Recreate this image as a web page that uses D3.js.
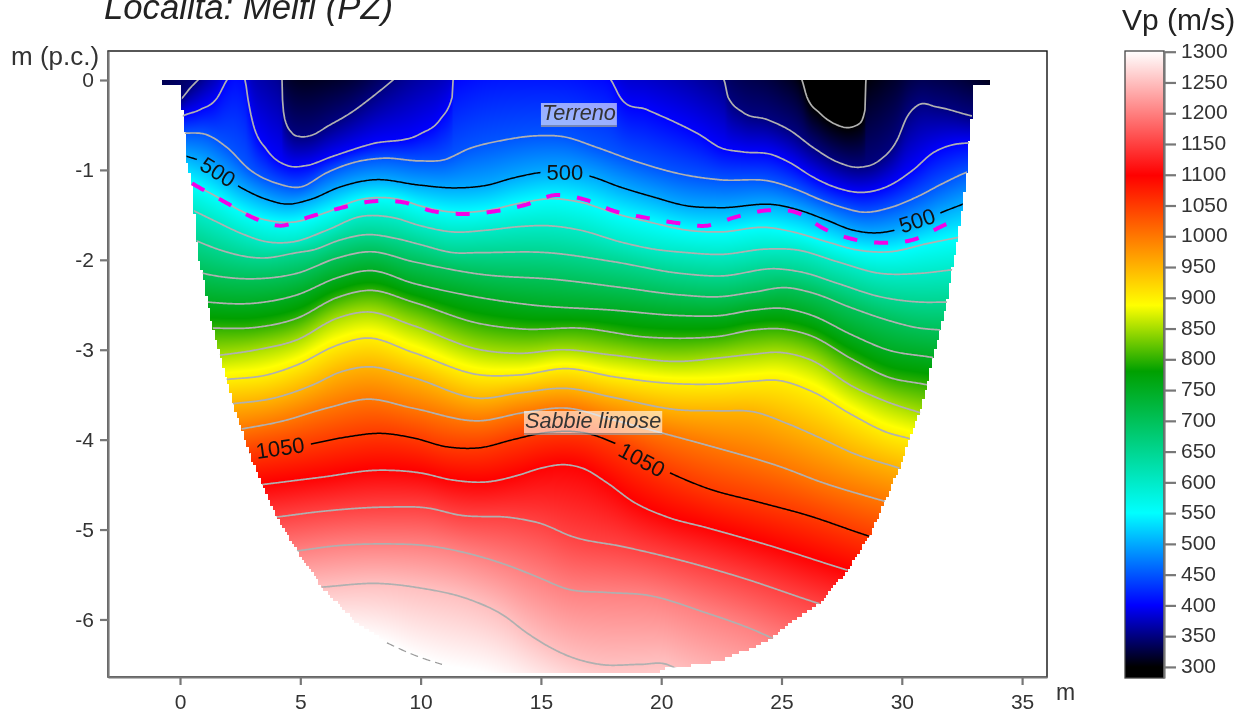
<!DOCTYPE html>
<html>
<head>
<meta charset="utf-8">
<script src="https://d3js.org/d3.v7.min.js"></script>
<style>
    html, body { margin: 0; background: #fff; overflow: hidden; }
    text { font-family: "Liberation Sans", Arial, sans-serif; }
</style>
</head>
<body>
<div id="chart"></div>
<script>
// isolines as [distance m, depth m]; positive depth = above ground, not drawn, only there to feed the colour field
const c300 = [[-.75,.67],[2.49,.78],[3.95,.44],[5,.22],[5.82,.22],[7.48,.33],[9.14,.67],[13.3,.89],[21.61,.89],[24.94,.33],[25.85,0],[26.06,-.19],[26.6,-.37],[27.31,-.5],[27.76,-.53],[28.26,-.48],[28.47,-.33],[28.51,0],[29.09,.22],[33.67,.11]]
const c350 = [[-.75,-.39],[.12,-.19],[.42,-.09],[.75,0],[1.45,.22],[2.49,.44],[3.95,.22],[4.24,0],[4.26,-.22],[4.36,-.44],[4.66,-.59],[5,-.63],[5.4,-.62],[6.23,-.5],[7.07,-.37],[7.98,-.19],[8.85,0],[9.77,.22],[13.3,.56],[17.46,.56],[21.61,.22],[22.61,0],[22.78,-.19],[23.4,-.36],[24.4,-.44],[25.35,-.56],[26.31,-.75],[27.31,-.91],[28.26,-.97],[29.09,-.89],[29.8,-.67],[30.22,-.41],[30.67,-.28],[31.46,-.3],[32.92,-.4],[33.67,-.44]]
const c400 = [[-.75,-.56],[.12,-.4],[.83,-.33],[1.54,-.2],[1.95,0],[2.33,.13],[2.7,0],[2.83,-.22],[3.03,-.48],[3.62,-.78],[4.45,-.95],[5.28,-.95],[6.23,-.86],[7.98,-.71],[9.98,-.6],[10.81,-.44],[11.31,-.19],[11.35,0],[12.05,.13],[14.55,.22],[17.04,.13],[17.91,0],[18.29,-.19],[19.41,-.33],[20.66,-.48],[21.61,-.61],[22.44,-.75],[23.4,-.8],[24.6,-.83],[25.35,-.92],[26.31,-1.08],[27.31,-1.2],[28.39,-1.25],[29.51,-1.17],[30.47,-1],[31.3,-.81],[32.13,-.72],[32.79,-.7],[33.67,-.69]]
const c450 = [[-.75,-.6],[.21,-.59],[1.12,-.61],[1.95,-.75],[2.91,-1],[4.03,-1.15],[5,-1.19],[6.11,-1.03],[7.19,-.92],[8.44,-.87],[9.98,-.9],[10.93,-.89],[12.05,-.76],[13.42,-.67],[14.84,-.62],[15.92,-.63],[17.33,-.75],[18.99,-.91],[21.07,-1.06],[22.44,-1.11],[24.6,-1.13],[25.64,-1.22],[26.6,-1.33],[27.56,-1.42],[28.39,-1.47],[29.51,-1.42],[30.63,-1.3],[31.71,-1.15],[32.67,-1.03],[33.67,-.95]]
const c500 = [[-.75,-.78],[.29,-.85],[1.04,-.92],[2.49,-1.19],[3.62,-1.33],[4.45,-1.38],[5.4,-1.33],[6.65,-1.19],[8.02,-1.11],[9.98,-1.17],[11.35,-1.2],[12.76,-1.17],[13.84,-1.09],[14.96,-1.03],[16,-1.02],[17.04,-1.07],[18.29,-1.19],[19.66,-1.3],[21.07,-1.4],[22.44,-1.42],[24.81,-1.39],[25.77,-1.45],[26.89,-1.56],[27.97,-1.67],[28.97,-1.7],[29.72,-1.67],[30.76,-1.58],[31.59,-1.48],[32.54,-1.38],[33.67,-1.25]]
const c550 = [[-.75,-.95],[.5,-1.15],[1.54,-1.3],[2.49,-1.45],[3.62,-1.56],[4.7,-1.58],[6.11,-1.47],[7.48,-1.33],[9.14,-1.33],[9.98,-1.4],[11.35,-1.47],[12.76,-1.45],[14.13,-1.37],[15.5,-1.32],[16.63,-1.36],[18.29,-1.5],[19.66,-1.59],[21.07,-1.67],[22.44,-1.69],[24.4,-1.64],[25.48,-1.69],[26.89,-1.8],[28.14,-1.89],[29.51,-1.91],[31.05,-1.82],[32.34,-1.75],[33.67,-1.67]]
const c600 = [[-.75,-1.28],[.54,-1.45],[1.54,-1.58],[2.49,-1.7],[3.62,-1.8],[4.7,-1.8],[6.11,-1.67],[7.48,-1.52],[8.85,-1.53],[9.98,-1.62],[11.35,-1.69],[12.76,-1.67],[14.13,-1.63],[15.25,-1.62],[16.63,-1.67],[18.29,-1.8],[19.66,-1.88],[21.07,-1.92],[22.44,-1.94],[24.4,-1.88],[25.64,-1.89],[27.31,-2.02],[29.09,-2.15],[30.76,-2.15],[32.13,-2.11],[33.67,-2.07]]
const c650 = [[-.75,-1.61],[.79,-1.8],[1.66,-1.89],[3.45,-1.98],[4.86,-1.92],[5.53,-1.89],[6.65,-1.78],[7.77,-1.72],[8.94,-1.76],[9.98,-1.83],[11.35,-1.92],[12.47,-1.92],[15.25,-1.92],[18,-2.02],[20.78,-2.15],[22.44,-2.18],[24.81,-2.1],[25.89,-2.14],[27.31,-2.26],[29.09,-2.41],[30.76,-2.47],[31.88,-2.47],[33.67,-2.47]]
const c700 = [[-.75,-2],[.96,-2.15],[3.2,-2.21],[4.86,-2.15],[6.53,-1.98],[7.9,-1.91],[9.68,-2.02],[12.47,-2.16],[15.67,-2.22],[18.41,-2.31],[20.78,-2.39],[22.44,-2.41],[23.82,-2.36],[25.23,-2.31],[26.18,-2.36],[27.97,-2.54],[29.39,-2.67],[30.76,-2.76],[31.59,-2.78],[33.67,-2.84]]
const c750 = [[-.75,-2.39],[1.16,-2.47],[3.2,-2.48],[4.86,-2.39],[6.53,-2.2],[7.9,-2.12],[9.68,-2.26],[12.47,-2.42],[14.55,-2.5],[18,-2.56],[20.78,-2.62],[22.44,-2.62],[23.82,-2.56],[25.06,-2.54],[26.18,-2.61],[27.97,-2.84],[29.39,-3],[31.34,-3.09],[33.67,-3.23]]
const c800 = [[-.75,-2.73],[1.45,-2.76],[3.2,-2.75],[4.86,-2.65],[6.53,-2.42],[7.9,-2.34],[9.68,-2.47],[12.47,-2.71],[14.26,-2.77],[16.63,-2.76],[19.41,-2.86],[21.32,-2.87],[22.44,-2.85],[23.82,-2.78],[25.06,-2.77],[26.18,-2.84],[27.97,-3.11],[29.39,-3.3],[31.05,-3.39],[33.67,-3.56]]
const c850 = [[-.75,-3.11],[1.66,-3.06],[3.2,-3],[4.86,-2.89],[6.53,-2.65],[7.77,-2.58],[9.68,-2.73],[12.47,-3],[14.13,-3.04],[15.92,-3],[18,-3.06],[20.78,-3.13],[22.44,-3.09],[23.82,-3.05],[24.94,-3.03],[26.18,-3.11],[27.97,-3.41],[29.39,-3.58],[30.76,-3.7],[33.67,-3.95]]
const c900 = [[-.75,-3.39],[1.95,-3.33],[3.62,-3.28],[4.86,-3.17],[6.53,-2.95],[7.77,-2.87],[9.68,-3.03],[12.47,-3.28],[14.13,-3.28],[16.08,-3.21],[18,-3.3],[20.78,-3.38],[22.44,-3.38],[23.82,-3.35],[24.81,-3.34],[26.31,-3.47],[27.97,-3.73],[29.39,-3.92],[30.34,-3.99],[33.67,-4.34]]
const c950 = [[-.75,-3.67],[2.2,-3.6],[3.87,-3.54],[5.53,-3.39],[6.65,-3.25],[7.77,-3.19],[9.68,-3.31],[12.47,-3.54],[14.13,-3.48],[16.08,-3.43],[18,-3.53],[20.78,-3.67],[22.44,-3.68],[23.82,-3.69],[25.23,-3.82],[26.6,-3.98],[27.97,-4.15],[29.93,-4.32],[33.67,-4.67]]
const c1000 = [[-.75,-4],[2.58,-3.88],[4.16,-3.8],[6.23,-3.64],[7.77,-3.55],[9.68,-3.65],[12.47,-3.79],[14.26,-3.7],[16.08,-3.65],[18,-3.78],[19.95,-3.92],[22.15,-4.08],[24.94,-4.3],[26.73,-4.48],[29.09,-4.67],[33.67,-5]]
const c1050 = [[-.75,-4.28],[2.83,-4.15],[5.4,-4.05],[6.94,-3.97],[8.31,-3.93],[9.68,-3.98],[11.1,-4.08],[12.47,-4.09],[13.84,-4],[15.25,-3.92],[16.92,-3.93],[18.16,-4.05],[20.37,-4.37],[21.9,-4.54],[23.98,-4.69],[26.06,-4.84],[28.6,-5.07],[33.67,-5.45]]
const c1100 = [[-.75,-4.62],[3.41,-4.5],[5.82,-4.42],[8.31,-4.34],[9.98,-4.37],[11.35,-4.45],[12.76,-4.47],[14.13,-4.39],[14.96,-4.32],[16.08,-4.28],[16.75,-4.32],[17.75,-4.48],[18.83,-4.69],[20.24,-4.86],[21.9,-4.98],[24.65,-5.19],[27.72,-5.45],[33.67,-5.89]]
const c1150 = [[-.75,-4.95],[4.03,-4.86],[5.82,-4.8],[8.6,-4.75],[10.27,-4.76],[11.64,-4.84],[13.84,-4.87],[14.96,-4.93],[16.33,-5.08],[18.41,-5.19],[20.49,-5.32],[23.28,-5.53],[26.52,-5.82],[33.67,-6.34]]
const c1200 = [[-.75,-5.34],[4.78,-5.24],[6.53,-5.18],[8.6,-5.16],[10.27,-5.18],[12.18,-5.28],[13.84,-5.42],[14.96,-5.54],[16.08,-5.66],[17.75,-5.7],[19.41,-5.73],[21.9,-5.93],[23.69,-6.1],[24.81,-6.23],[33.67,-6.9]]
const c1250 = [[-.75,-5.78],[5.9,-5.64],[8.31,-5.6],[9.98,-5.65],[12.05,-5.78],[13.42,-5.95],[14.42,-6.15],[15.38,-6.31],[16.08,-6.4],[17.46,-6.5],[19.12,-6.5],[20.24,-6.5],[20.66,-6.55],[33.67,-7.56]]
const c1300 = [[-.75,-6.23],[5.9,-6.12],[8.6,-6.26],[9.77,-6.4],[10.89,-6.5],[12.68,-6.6],[14.96,-6.84],[17.46,-7.06],[20,-7.23],[33.67,-8.34]]

const levels = [300, 350, 400, 450, 500, 550, 600, 650, 700, 750, 800, 850, 900, 950, 1000, 1050, 1100, 1150, 1200, 1250, 1300]
const isolines = [c300, c350, c400, c450, c500, c550, c600, c650, c700, c750, c800, c850, c900, c950, c1000, c1050, c1100, c1150, c1200, c1250, c1300]
const drawnLevels = [300, 350, 400, 450, 500, 550, 600, 650, 700, 750, 800, 850, 900, 950, 1000, 1050, 1100, 1150, 1200, 1250]
const blackLevels = [500, 1050]

// short visible bit of the 1300 line
const c1300Visible = [[8.6,-6.26],[9.77,-6.4],[10.89,-6.5]]

// magenta dashed line
const refractor = [[.5,-1.15],[1.95,-1.37],[3.03,-1.53],[4.16,-1.62],[5.4,-1.52],[6.73,-1.42],[7.98,-1.35],[9.27,-1.36],[10.52,-1.46],[11.76,-1.49],[13.09,-1.46],[14.34,-1.39],[15.59,-1.28],[16.83,-1.33],[18.08,-1.46],[19.33,-1.53],[20.66,-1.59],[21.9,-1.62],[23.15,-1.52],[24.4,-1.45],[25.69,-1.48],[26.81,-1.66],[27.97,-1.77],[29.3,-1.81],[30.55,-1.77],[31.71,-1.62],[32.3,-1.55]]

// lower limit of the section (blanking)
const sectionBase = [[-.75,-.05],[.03,-.05],[.05,-.1],[.11,-.39],[.21,-.61],[.29,-.92],[.49,-1.15],[.75,-1.97],[.94,-2.15],[1.16,-2.47],[1.37,-2.76],[1.66,-3.06],[1.94,-3.33],[2.2,-3.6],[2.56,-3.88],[2.98,-4.23],[3.4,-4.49],[4.02,-4.86],[4.78,-5.2],[5.89,-5.64],[6.51,-5.81],[7.19,-6],[8.59,-6.26],[10.81,-6.5],[12.59,-6.6],[19.9,-6.6],[20,-6.55],[21.61,-6.5],[22.53,-6.45],[23.57,-6.34],[24.65,-6.21],[24.94,-6.12],[26.6,-5.82],[27.76,-5.45],[28.68,-5.06],[29.93,-4.3],[30.34,-3.98],[30.76,-3.7],[31.05,-3.39],[31.3,-3.09],[31.59,-2.78],[31.88,-2.47],[32.09,-2.11],[32.21,-1.92],[32.34,-1.75],[32.54,-1.37],[32.71,-1.02],[32.79,-.7],[32.92,-.39],[32.96,-.1],[32.98,-.05],[33.67,-.05]]

// contour labels: text, distance, depth, angle
const contourLabels = ['500', '500', '500', '1050', '1050']
const contourLabelX = [1.58, 16, 30.63, 4.16, 19.2]
const contourLabelZ = [-1.02, -1.02, -1.56, -4.09, -4.22]
const contourLabelAngle = [32, 0, -18, -8, 28]

const noteTexts = ['Terreno', 'Sabbie limose']
const noteX = [16.58, 17.17]
const noteZ = [-.445, -3.87]

const xTicks = [0, 5, 10, 15, 20, 25, 30, 35]
const yTicks = [0, -1, -2, -3, -4, -5, -6]
const barTicks = [1300, 1250, 1200, 1150, 1100, 1050, 1000, 950, 900, 850, 800, 750, 700, 650, 600, 550, 500, 450, 400, 350, 300]

// colour ramp
const rampValues = [300, 400, 550, 780, 887, 1098, 1300]
const rampColors = ['#000000', '#0000ff', '#00ffff', '#00a000', '#ffff00', '#ff0000', '#ffffff']

const w = 1247
const h = 718
const plotLeft = 108, plotRight = 1047, plotTop = 51, plotBottom = 677

const xScale = d3.scaleLinear().domain([-2.993, 36.035]).range([plotLeft, plotRight])
const yScale = d3.scaleLinear().domain([.3226, -6.64]).range([plotTop, plotBottom])
const colorScale = d3.scaleLinear().domain(rampValues).range(rampColors).clamp(true)

const svg = d3.select('#chart').append('svg')
    .attr('width', w)
    .attr('height', h)
    .style('display', 'block')
    .style('filter', 'blur(.45px)')

svg.append('rect').attr('width', w).attr('height', h).attr('fill', '#fff')

// smooth curve through the read points, limited only where a line goes almost vertical
function smoothLine(pts) {
    const n = pts.length
    const xs = pts.map(d => d[0])
    const zs = pts.map(d => d[1])
    const m = new Array(n).fill(0)
    const sign = v => v < 0 ? -1 : 1
    for (let i = 1; i < n - 1; i++) {
        const h0 = xs[i] - xs[i - 1], h1 = xs[i + 1] - xs[i]
        const s0 = (zs[i] - zs[i - 1]) / h0, s1 = (zs[i + 1] - zs[i]) / h1
        const p = (s0 * h1 + s1 * h0) / (h0 + h1)
        if (Math.max(Math.abs(s0), Math.abs(s1)) > .6) m[i] = (sign(s0) + sign(s1)) * Math.min(Math.abs(s0), Math.abs(s1), .5 * Math.abs(p)) || 0
        else m[i] = p
    }
    m[0] = (3 * (zs[1] - zs[0]) / (xs[1] - xs[0]) - m[1]) / 2
    m[n - 1] = (3 * (zs[n - 1] - zs[n - 2]) / (xs[n - 1] - xs[n - 2]) - m[n - 2]) / 2
    return x => {
        const i = Math.min(Math.max(d3.bisectRight(xs, x) - 1, 0), n - 2)
        const d = xs[i + 1] - xs[i]
        const t = (x - xs[i]) / d
        const t2 = t * t, t3 = t2 * t
        return (2 * t3 - 3 * t2 + 1) * zs[i] + (t3 - 2 * t2 + t) * d * m[i] + (-2 * t3 + 3 * t2) * zs[i + 1] + (t3 - t2) * d * m[i + 1]
    }
}

const lineFns = isolines.map(smoothLine)
const baseScale = d3.scaleLinear().domain(sectionBase.map(d => d[0])).range(sectionBase.map(d => d[1])).clamp(true)

// paint the velocity field into a canvas, then put it in the svg as an image
const canvas = document.createElement('canvas')
canvas.width = plotRight - plotLeft
canvas.height = plotBottom - plotTop
const ctx = canvas.getContext('2d')
const img = ctx.createImageData(canvas.width, canvas.height)
const xMin = sectionBase[0][0]
const xMax = sectionBase[sectionBase.length - 1][0]

for (let i = 0; i < canvas.width; i++) {
    const x = xScale.invert(plotLeft + i + .5)
    if (x < xMin || x > xMax) continue
    let zs = lineFns.map(s => s(x))
    for (let k = 1; k < zs.length; k++) zs[k] = Math.min(zs[k], zs[k - 1] - 1e-4)
    const vel = d3.scaleLinear().domain(zs).range(levels).clamp(true)
    const xCell = Math.round(x / .1) * .1
    const zLimit = baseScale(xCell)
    for (let j = 0; j < canvas.height; j++) {
        const z = yScale.invert(plotTop + j + .5)
        const zCell = Math.round(z / .035) * .035
        if (z > 0 || zCell < zLimit) continue
        const c = d3.rgb(colorScale(vel(z)))
        const p = (j * canvas.width + i) * 4
        img.data[p] = c.r
        img.data[p + 1] = c.g
        img.data[p + 2] = c.b
        img.data[p + 3] = 255
    }
}
ctx.putImageData(img, 0, 0)

svg.append('image')
    .attr('x', plotLeft)
    .attr('y', plotTop)
    .attr('width', canvas.width)
    .attr('height', canvas.height)
    .attr('href', canvas.toDataURL())

const defs = svg.append('defs')

// clip isolines to the section
const plainLine = d3.line().x(d => xScale(d[0])).y(d => yScale(d[1]))
defs.append('clipPath').attr('id', 'section')
    .append('path')
    .attr('d', plainLine([[xMin, 0], ...sectionBase, [xMax, 0]]) + 'Z')

// holes in the isolines where the labels sit
const holes = defs.append('mask').attr('id', 'holes').attr('maskUnits', 'userSpaceOnUse')
    .attr('x', 0).attr('y', 0).attr('width', w).attr('height', h)
holes.append('rect').attr('width', w).attr('height', h).attr('fill', '#fff')
holes.selectAll('.hole')
    .data(contourLabels)
    .enter()
    .append('rect')
    .attr('class', 'hole')
    .attr('x', d => -d.length * 6.5 - 5)
    .attr('y', -12)
    .attr('width', d => d.length * 13 + 10)
    .attr('height', 24)
    .attr('fill', '#000')
    .attr('transform', (d, i) => `translate(${xScale(contourLabelX[i])},${yScale(contourLabelZ[i])}) rotate(${contourLabelAngle[i]})`)

// walk along a curve finely, keeping the read points so the steep bits stay steep
const traced = pts => {
    const fn = smoothLine(pts)
    const xs = [...pts.map(d => d[0]), ...d3.range(pts[0][0], pts[pts.length - 1][0], .05)].sort((a, b) => a - b)
    return xs.map(x => [x, fn(x)])
}

const lineGroup = svg.append('g').attr('clip-path', 'url(#section)')
    .append('g').attr('mask', 'url(#holes)')

lineGroup.selectAll('path')
    .data(drawnLevels)
    .enter()
    .append('path')
    .attr('d', d => plainLine(traced(isolines[levels.indexOf(d)])))
    .attr('fill', 'none')
    .attr('stroke', d => blackLevels.includes(d) ? '#000' : '#b0b0b0')
    .attr('stroke-width', d => blackLevels.includes(d) ? 1.5 : 1.7)

svg.append('path')
    .attr('d', plainLine(traced(c1300Visible)))
    .attr('fill', 'none')
    .attr('stroke', '#999')
    .attr('stroke-width', 1.2)
    .attr('stroke-dasharray', '8 5')

svg.append('path')
    .attr('d', plainLine(traced(refractor)))
    .attr('fill', 'none')
    .attr('stroke', '#f400e6')
    .attr('stroke-width', 4)
    .attr('stroke-dasharray', '14 17')

svg.selectAll('.contour-label')
    .data(contourLabels)
    .enter()
    .append('text')
    .attr('class', 'contour-label')
    .attr('text-anchor', 'middle')
    .attr('dy', '.36em')
    .attr('font-size', 22)
    .attr('fill', '#111')
    .attr('transform', (d, i) => `translate(${xScale(contourLabelX[i])},${yScale(contourLabelZ[i])}) rotate(${contourLabelAngle[i]})`)
    .text(d => d)

// text notes with their pale box
noteTexts.forEach((t, i) => {
    const g = svg.append('g').attr('transform', `translate(${xScale(noteX[i])},${yScale(noteZ[i])})`)
    const label = g.append('text')
        .attr('text-anchor', 'middle')
        .attr('font-size', 21.7)
        .attr('font-style', 'italic')
        .attr('fill', '#333')
        .text(t)
    const b = label.node().getBBox()
    g.insert('rect', 'text')
        .attr('x', b.x - 1)
        .attr('y', -17)
        .attr('width', b.width + 2)
        .attr('height', 24)
        .attr('fill', '#fff')
        .attr('fill-opacity', .6)
    g.append('line')
        .attr('x1', b.x - 1)
        .attr('x2', b.x + b.width + 1)
        .attr('y1', 6)
        .attr('y2', 6)
        .attr('stroke', '#333')
        .attr('stroke-opacity', .7)
})

// frame and axes
svg.append('rect')
    .attr('x', plotLeft)
    .attr('y', plotTop)
    .attr('width', plotRight - plotLeft)
    .attr('height', plotBottom - plotTop)
    .attr('fill', 'none')
    .attr('stroke', '#111')
    .attr('stroke-width', 1.4)

const xAxis = d3.axisBottom(xScale).tickValues(xTicks).tickSize(8).tickSizeOuter(0).tickPadding(9).tickFormat(d3.format('d'))
const yAxis = d3.axisLeft(yScale).tickValues(yTicks).tickSize(8).tickSizeOuter(0).tickPadding(6).tickFormat(d => String(d))

const styleAxis = g => {
    g.selectAll('text').attr('font-size', 21).attr('fill', '#333')
        .style('font-family', '"Liberation Sans", Arial, sans-serif')
    g.selectAll('line').attr('stroke', '#777').attr('stroke-width', 2.2)
    g.select('.domain').attr('stroke', '#777').attr('stroke-width', 2.2)
}

svg.append('g').attr('id', 'x-axis')
    .attr('transform', 'translate(0,' + plotBottom + ')')
    .call(xAxis)
    .call(styleAxis)

svg.append('g').attr('id', 'y-axis')
    .attr('transform', 'translate(' + plotLeft + ',0)')
    .call(yAxis)
    .call(styleAxis)

svg.append('text')
    .attr('x', 11)
    .attr('y', 65)
    .attr('font-size', 26)
    .attr('fill', '#333')
    .text('m (p.c.)')

svg.append('text')
    .attr('x', 1056)
    .attr('y', 700)
    .attr('font-size', 23)
    .attr('fill', '#333')
    .text('m')

svg.append('text')
    .attr('x', 104)
    .attr('y', 19)
    .attr('font-size', 34.7)
    .attr('font-style', 'italic')
    .attr('fill', '#222')
    .text('Localita: Melfi (PZ)')

// colour bar
const barLeft = 1125, barRight = 1164, barTop = 51, barBottom = 678
const barScale = d3.scaleLinear().domain([282, 1300]).range([barBottom, barTop + .7])

const grad = defs.append('linearGradient').attr('id', 'ramp')
    .attr('x1', 0).attr('x2', 0).attr('y1', 1).attr('y2', 0)
const rampStops = [282, ...rampValues]
grad.selectAll('stop')
    .data(rampStops)
    .enter()
    .append('stop')
    .attr('offset', d => (d - 282) / (1300 - 282))
    .attr('stop-color', d => colorScale(d))

svg.append('rect')
    .attr('x', barLeft)
    .attr('y', barTop)
    .attr('width', barRight - barLeft)
    .attr('height', barBottom - barTop)
    .attr('fill', 'url(#ramp)')
    .attr('stroke', '#444')
    .attr('stroke-width', 1.3)

const barAxis = d3.axisRight(barScale).tickValues(barTicks).tickSize(12).tickSizeOuter(0).tickPadding(5).tickFormat(d3.format('d'))

svg.append('g').attr('id', 'bar-axis')
    .attr('transform', 'translate(' + barRight + ',0)')
    .call(barAxis)
    .call(styleAxis)
    .call(g => g.selectAll('text').attr('dy', '.27em'))

svg.append('text')
    .attr('x', 1122)
    .attr('y', 30)
    .attr('font-size', 30)
    .attr('fill', '#222')
    .text('Vp (m/s)')
</script>
</body>
</html>
